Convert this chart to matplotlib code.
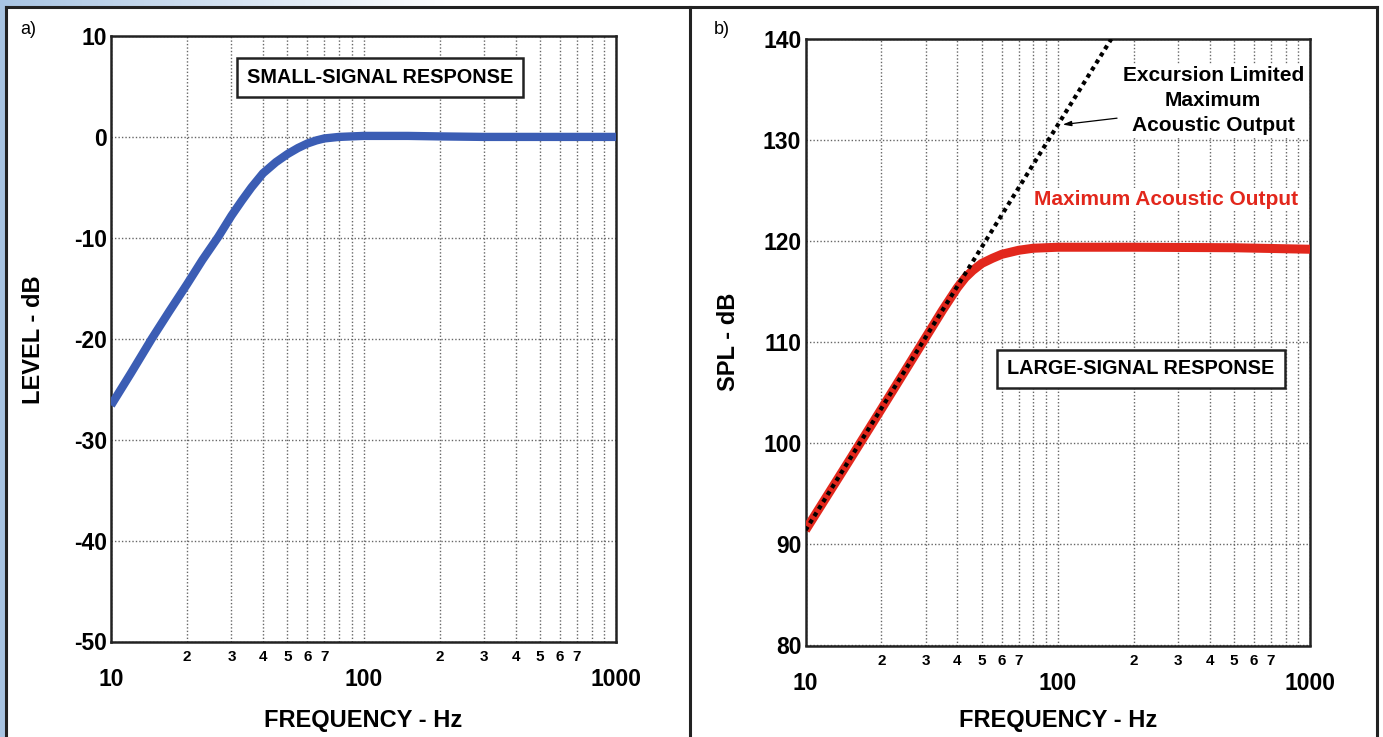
import numpy as np
import matplotlib
matplotlib.use('Agg')
import matplotlib.pyplot as plt
from matplotlib.ticker import FixedLocator, FuncFormatter, LogLocator
from matplotlib.lines import Line2D

plt.rcParams['font.family'] = ['Liberation Sans', 'DejaVu Sans']
plt.rcParams['font.weight'] = 'bold'
plt.rcParams['axes.unicode_minus'] = False

# small-signal response (panel a)
freq_a = [10, 12, 14.5, 17, 20, 23, 26.6, 30, 33, 36, 40, 45, 50, 55, 60, 65, 70, 80, 100, 150, 200, 300, 500, 1000]
level_a = [-26.6, -23.4, -20.0, -17.3, -14.6, -12.2, -9.9, -7.8, -6.3, -5.0, -3.6, -2.5, -1.7, -1.1, -0.65,
           -0.35, -0.15, 0.0, 0.1, 0.1, 0.05, 0.0, 0.0, 0.0]

# large-signal response (panel b)
freq_b = [10, 15, 20, 25, 30, 35, 40, 43, 46, 50, 55, 60, 70, 80, 100, 200, 500, 1000]
spl_b = [91.4, 98.4, 103.4, 107.3, 110.5, 113.2, 115.4, 116.4, 117.1, 117.8, 118.3, 118.7, 119.1, 119.3,
         119.4, 119.4, 119.35, 119.2]

# excursion limited line
freq_exc = [10, 163]
spl_exc = [91.4, 140.0]

W, H = 1383, 737
fig = plt.figure(figsize=(W / 100, H / 100), dpi=100)
fig.patch.set_facecolor('white')

# background strip (blue edge)
bg = fig.add_axes([0, 0, 1, 1], zorder=-10)
grad = np.ones((H, W, 3))
blue = np.array([0.66, 0.77, 0.89])
grad[:, :6, :] = blue
t = np.clip(np.arange(W) / 450.0, 0, 1)[:, None]
grad[:7, :, :] = (blue * (1 - t) + np.ones(3) * t)[None, :, :]
bg.imshow(grad, aspect='auto', extent=[0, 1, 0, 1])
bg.axis('off')

# frame lines
frame_kw = dict(color='#222222', lw=2.2, transform=fig.transFigure)
fig.add_artist(Line2D([6 / W, 6 / W], [0, 1 - 7 / H], **frame_kw))
fig.add_artist(Line2D([6 / W, 1377 / W], [1 - 7 / H, 1 - 7 / H], **frame_kw))
fig.add_artist(Line2D([1377 / W, 1377 / W], [0, 1 - 7 / H], **frame_kw))
fig.add_artist(Line2D([690 / W, 690 / W], [0, 1 - 7 / H], **frame_kw))

def minor_fmt(x, pos):
    d = int(round(x / 10 ** np.floor(np.log10(x))))
    return str(d) if 2 <= d <= 7 else ''

def setup_axes(ax, ylim, yticks):
    ax.set_xscale('log')
    ax.set_xlim(10, 1000)
    ax.set_ylim(*ylim)
    ax.set_yticks(yticks)
    ax.xaxis.set_major_locator(FixedLocator([10, 100, 1000]))
    ax.xaxis.set_major_formatter(FuncFormatter(lambda x, p: '%d' % x))
    ax.xaxis.set_minor_locator(LogLocator(base=10, subs=np.arange(2, 10)))
    ax.xaxis.set_minor_formatter(FuncFormatter(minor_fmt))
    ax.tick_params(which='both', length=0)
    ax.tick_params(axis='x', which='major', labelsize=16.5, pad=19)
    ax.tick_params(axis='x', which='minor', labelsize=11, pad=6)
    ax.tick_params(axis='y', labelsize=16.5, pad=3)
    ax.grid(which='major', color='#666666', lw=1, linestyle=(0, (1, 1.5)))
    ax.grid(which='minor', axis='x', color='#666666', lw=1, linestyle=(0, (1, 1.5)))
    for s in ax.spines.values():
        s.set_linewidth(1.8)
        s.set_color('#222222')

# panel a
ax1 = fig.add_axes([111 / W, 1 - 641.5 / H, 505 / W, 605.5 / H])
setup_axes(ax1, (-50, 10), np.arange(-50, 11, 10))
ax1.plot(freq_a, level_a, color='#3b5db4', lw=6, solid_capstyle='butt', solid_joinstyle='round', zorder=3)
ax1.text(0.533, 0.931, 'SMALL-SIGNAL RESPONSE', transform=ax1.transAxes, ha='center', va='center',
         fontsize=14.3, zorder=5,
         bbox=dict(boxstyle='square,pad=0.5', fc='white', ec='#222222', lw=1.8))

# panel b
ax2 = fig.add_axes([805.5 / W, 1 - 645.5 / H, 504.5 / W, 606.5 / H])
setup_axes(ax2, (80, 140), np.arange(80, 141, 10))
ax2.plot(freq_b, spl_b, color='#e2271c', lw=6.5, solid_capstyle='butt', solid_joinstyle='round', zorder=3)
ax2.plot(freq_exc, spl_exc, color='black', lw=3, linestyle=(0, (1.0, 1.0)), zorder=4)
ax2.text(0.665, 0.456, 'LARGE-SIGNAL RESPONSE', transform=ax2.transAxes, ha='center', va='center',
         fontsize=14.3, zorder=5,
         bbox=dict(boxstyle='square,pad=0.5', fc='white', ec='#222222', lw=1.8))
ax2.annotate('', xy=(102, 131.5), xycoords='data', xytext=(0.623, 0.870), textcoords='axes fraction',
             arrowprops=dict(arrowstyle='-|>,head_length=0.5,head_width=0.15', color='black', lw=0.9),
             zorder=5)
ax2.text(0.808, 0.899, 'Excursion Limited\nMaximum\nAcoustic Output', transform=ax2.transAxes,
         ha='center', va='center', fontsize=15, linespacing=1.4, zorder=5,
         bbox=dict(boxstyle='square,pad=0.1', fc='white', ec='none'))
ax2.text(0.715, 0.736, 'Maximum Acoustic Output', transform=ax2.transAxes, ha='center', va='center',
         fontsize=15, color='#e2271c', zorder=5,
         bbox=dict(boxstyle='square,pad=0.1', fc='white', ec='none'))

# labels
fig.text(363.5 / W, 1 - 720 / H, 'FREQUENCY - Hz', ha='center', va='center', fontsize=17)
fig.text(1058 / W, 1 - 720 / H, 'FREQUENCY - Hz', ha='center', va='center', fontsize=17)
fig.text(33 / W, 1 - 340 / H, 'LEVEL - dB', ha='center', va='center', rotation=90, fontsize=17)
fig.text(728 / W, 1 - 342 / H, 'SPL - dB', ha='center', va='center', rotation=90, fontsize=17)
fig.text(20 / W, 1 - 30 / H, 'a)', ha='left', va='center', fontsize=13, fontweight='normal')
fig.text(714 / W, 1 - 30 / H, 'b)', ha='left', va='center', fontsize=13, fontweight='normal')

fig.savefig('out.png', dpi=100)
